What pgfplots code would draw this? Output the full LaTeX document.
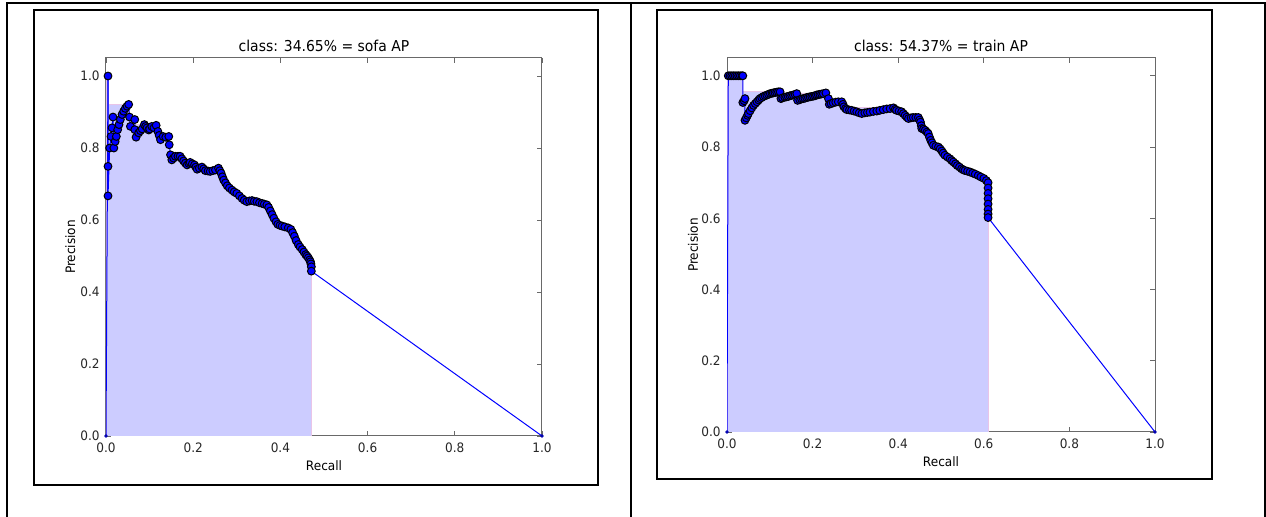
\documentclass[border=0pt]{standalone}
\usepackage{fontspec}
\setmainfont{DejaVu Sans}[FakeStretch=0.93]
\usepackage{pgfplots}
\pgfplotsset{compat=1.18}
\definecolor{apfill}{RGB}{204,204,255}
\definecolor{apedge}{RGB}{232,196,232}
\definecolor{axgray}{RGB}{105,105,105}
\definecolor{ptblue}{RGB}{0,0,255}
\pgfplotsset{prstyle/.style={
  scale only axis,
  xmin=0, xmax=1, ymin=0, ymax=1.05,
  xtick={0,0.2,0.4,0.6,0.8,1}, ytick={0,0.2,0.4,0.6,0.8,1},
  tick align=inside, xtick pos=both, ytick pos=both,
  major tick length=2.5pt,
  every tick/.style={axgray, line width=0.4pt},
  axis line style={axgray, line width=0.5pt},
  ticklabel style={font=\fontsize{6.5}{7}\selectfont, text=black!85, inner sep=0pt},
  xticklabel style={anchor=base, yshift=-8.5pt},
  yticklabel style={anchor=east, xshift=-3pt},
  /pgf/number format/.cd, fixed, fixed zerofill, precision=1, assume math mode=true, /pgfplots/.cd,
  every axis title/.style={font=\fontsize{7.5}{9}\selectfont, at={(0.5,1)}, anchor=base, yshift=3pt, inner sep=0pt},
  xlabel style={font=\fontsize{6.5}{7}\selectfont, at={(axis description cs:0.5,0)}, anchor=base, yshift=-17.5pt, inner sep=0pt},
  ylabel style={font=\fontsize{6.5}{7}\selectfont, anchor=base, inner sep=0pt},
  xlabel={Recall}, ylabel={Precision},
}}
\pgfplotsset{envfill/.style={fill=apfill, draw=apedge, line width=0.4pt, const plot mark right},
  prline/.style={ptblue, line width=0.5pt},
  prpts/.style={ptblue, line width=0.5pt, mark=*, mark size=1.95pt, mark options={fill=ptblue, draw=black, line width=0.5pt}}}
\begin{document}
\begin{tikzpicture}
\useasboundingbox (0pt,0pt) rectangle (633pt,-258.5pt);
% table frame
\draw[line width=1pt] (3.5pt,-258.5pt) -- (3.5pt,-1.5pt) -- (632.5pt,-1.5pt) -- (632.5pt,-258.5pt);
\draw[line width=1pt] (315.5pt,-1.5pt) -- (315.5pt,-258.5pt);
\draw[line width=1pt] (17pt,-5pt) rectangle (299pt,-242.5pt);
\draw[line width=1pt] (328.5pt,-5pt) rectangle (606pt,-239.5pt);

\begin{axis}[prstyle, at={(53pt,-218pt)}, anchor=south west, width=218pt, height=189pt,
  title={class: 34.65\% = sofa AP},
  ylabel style={at={(axis description cs:-0.071,0.5)}}]
\addplot[envfill] coordinates {(0,0) (0,1) (0.0046,1) (0.052,0.921) (0.054,0.886) (0.066,0.879) (0.088,0.865) (0.115,0.863) (0.119,0.846) (0.144,0.832) (0.145,0.809) (0.148,0.781) (0.17,0.777) (0.174,0.77) (0.178,0.764) (0.193,0.76) (0.203,0.753) (0.22,0.747) (0.258,0.744) (0.261,0.737) (0.264,0.73) (0.267,0.72) (0.27,0.711) (0.274,0.703) (0.278,0.695) (0.283,0.689) (0.289,0.683) (0.294,0.678) (0.3,0.674) (0.306,0.667) (0.312,0.66) (0.317,0.655) (0.335,0.654) (0.34,0.652) (0.346,0.651) (0.352,0.648) (0.358,0.646) (0.363,0.644) (0.369,0.642) (0.373,0.635) (0.377,0.625) (0.381,0.615) (0.385,0.605) (0.39,0.595) (0.394,0.588) (0.399,0.585) (0.404,0.583) (0.41,0.581) (0.418,0.578) (0.424,0.574) (0.428,0.565) (0.432,0.555) (0.436,0.543) (0.441,0.532) (0.445,0.525) (0.45,0.518) (0.454,0.511) (0.458,0.504) (0.461,0.5) (0.464,0.495) (0.467,0.489) (0.469,0.484) (0.47,0.478) (0.471,0.47) (0.471,0)};
\addplot[prline] coordinates {(0,0) (0.0046,1)};
\addplot[prline] coordinates {(0.471,0.458) (1,0)};
\addplot[prpts] coordinates {(0.0046,1) (0.0046,0.749) (0.0046,0.667) (0.0084,0.8) (0.0115,0.832) (0.0138,0.856) (0.016,0.886) (0.018,0.8) (0.021,0.818) (0.0237,0.832) (0.0268,0.851) (0.0298,0.865) (0.0329,0.879) (0.0367,0.893) (0.0405,0.902) (0.0443,0.91) (0.0482,0.916) (0.052,0.921) (0.054,0.886) (0.056,0.86) (0.066,0.879) (0.066,0.851) (0.069,0.83) (0.075,0.842) (0.079,0.848) (0.083,0.853) (0.088,0.865) (0.091,0.86) (0.094,0.856) (0.098,0.85) (0.1,0.853) (0.105,0.86) (0.11,0.856) (0.115,0.863) (0.119,0.846) (0.122,0.835) (0.125,0.823) (0.131,0.832) (0.137,0.83) (0.144,0.832) (0.145,0.809) (0.148,0.781) (0.151,0.767) (0.155,0.772) (0.159,0.777) (0.165,0.777) (0.17,0.777) (0.174,0.77) (0.178,0.764) (0.182,0.758) (0.186,0.753) (0.19,0.757) (0.193,0.76) (0.198,0.756) (0.203,0.753) (0.206,0.747) (0.209,0.741) (0.214,0.744) (0.22,0.747) (0.224,0.742) (0.228,0.737) (0.234,0.736) (0.239,0.735) (0.245,0.737) (0.251,0.739) (0.258,0.744) (0.261,0.737) (0.264,0.73) (0.267,0.72) (0.27,0.711) (0.274,0.703) (0.278,0.695) (0.283,0.689) (0.289,0.683) (0.294,0.678) (0.3,0.674) (0.306,0.667) (0.312,0.66) (0.317,0.655) (0.323,0.651) (0.329,0.653) (0.335,0.654) (0.34,0.652) (0.346,0.651) (0.352,0.648) (0.358,0.646) (0.363,0.644) (0.369,0.642) (0.373,0.635) (0.377,0.625) (0.381,0.615) (0.385,0.605) (0.39,0.595) (0.394,0.588) (0.399,0.585) (0.404,0.583) (0.41,0.581) (0.418,0.578) (0.424,0.574) (0.428,0.565) (0.432,0.555) (0.436,0.543) (0.441,0.532) (0.445,0.525) (0.45,0.518) (0.454,0.511) (0.458,0.504) (0.461,0.5) (0.464,0.495) (0.467,0.489) (0.469,0.484) (0.47,0.478) (0.471,0.47) (0.471,0.458)};
\addplot[only marks, mark=*, mark size=0.6pt, ptblue!70!black] coordinates {(0,0) (1,0)};
\end{axis}

\begin{axis}[prstyle, at={(363.5pt,-216pt)}, anchor=south west, width=214pt, height=187pt,
  title={class: 54.37\% = train AP},
  ylabel style={at={(axis description cs:-0.068,0.5)}}]
\addplot[envfill] coordinates {(0,0) (0,1) (0.037,1) (0.124,0.955) (0.231,0.952) (0.268,0.927) (0.389,0.91) (0.393,0.906) (0.396,0.903) (0.402,0.901) (0.408,0.899) (0.412,0.894) (0.416,0.889) (0.447,0.883) (0.45,0.876) (0.452,0.87) (0.454,0.86) (0.455,0.852) (0.459,0.85) (0.463,0.847) (0.467,0.842) (0.47,0.838) (0.473,0.828) (0.476,0.819) (0.479,0.812) (0.482,0.805) (0.488,0.802) (0.494,0.8) (0.498,0.795) (0.502,0.789) (0.505,0.783) (0.509,0.777) (0.515,0.772) (0.521,0.767) (0.525,0.762) (0.529,0.758) (0.534,0.753) (0.538,0.748) (0.543,0.744) (0.548,0.739) (0.552,0.736) (0.556,0.734) (0.562,0.732) (0.568,0.73) (0.574,0.727) (0.58,0.724) (0.587,0.72) (0.593,0.716) (0.6,0.712) (0.606,0.706) (0.61,0.7) (0.61,0)};
\addplot[prline] coordinates {(0,0) (0.003,1)};
\addplot[prline] coordinates {(0.61,0.602) (1,0)};
\addplot[prpts] coordinates {(0.003,1) (0.007,1) (0.011,1) (0.015,1) (0.019,1) (0.023,1) (0.027,1) (0.031,1) (0.035,1) (0.037,1) (0.037,0.925) (0.04,0.93) (0.042,0.936) (0.042,0.875) (0.045,0.882) (0.048,0.889) (0.05,0.894) (0.054,0.902) (0.058,0.91) (0.062,0.917) (0.066,0.922) (0.07,0.927) (0.074,0.932) (0.077,0.936) (0.081,0.939) (0.085,0.942) (0.089,0.944) (0.093,0.946) (0.097,0.948) (0.101,0.95) (0.105,0.951) (0.108,0.952) (0.112,0.953) (0.116,0.954) (0.12,0.955) (0.124,0.955) (0.126,0.936) (0.13,0.938) (0.135,0.94) (0.139,0.941) (0.143,0.942) (0.147,0.944) (0.151,0.945) (0.155,0.946) (0.159,0.948) (0.163,0.95) (0.165,0.931) (0.17,0.933) (0.174,0.935) (0.178,0.936) (0.182,0.937) (0.186,0.939) (0.19,0.94) (0.194,0.941) (0.198,0.942) (0.202,0.943) (0.206,0.944) (0.209,0.946) (0.213,0.947) (0.217,0.948) (0.221,0.949) (0.225,0.95) (0.231,0.952) (0.237,0.936) (0.239,0.92) (0.243,0.922) (0.248,0.924) (0.254,0.926) (0.26,0.927) (0.268,0.927) (0.271,0.92) (0.273,0.913) (0.277,0.908) (0.28,0.905) (0.286,0.904) (0.291,0.903) (0.297,0.901) (0.303,0.899) (0.309,0.896) (0.315,0.894) (0.322,0.896) (0.328,0.897) (0.334,0.898) (0.342,0.9) (0.35,0.901) (0.357,0.903) (0.365,0.905) (0.373,0.907) (0.381,0.908) (0.389,0.91) (0.393,0.906) (0.396,0.903) (0.402,0.901) (0.408,0.899) (0.412,0.894) (0.416,0.889) (0.42,0.884) (0.424,0.88) (0.43,0.882) (0.435,0.883) (0.441,0.883) (0.447,0.883) (0.45,0.876) (0.452,0.87) (0.454,0.86) (0.455,0.852) (0.459,0.85) (0.463,0.847) (0.467,0.842) (0.47,0.838) (0.473,0.828) (0.476,0.819) (0.479,0.812) (0.482,0.805) (0.488,0.802) (0.494,0.8) (0.498,0.795) (0.502,0.789) (0.505,0.783) (0.509,0.777) (0.515,0.772) (0.521,0.767) (0.525,0.762) (0.529,0.758) (0.534,0.753) (0.538,0.748) (0.543,0.744) (0.548,0.739) (0.552,0.736) (0.556,0.734) (0.562,0.732) (0.568,0.73) (0.574,0.727) (0.58,0.724) (0.587,0.72) (0.593,0.716) (0.6,0.712) (0.606,0.706) (0.61,0.7) (0.61,0.685) (0.61,0.67) (0.61,0.655) (0.61,0.64) (0.61,0.625) (0.61,0.612) (0.61,0.602)};
\addplot[only marks, mark=*, mark size=0.6pt, ptblue!70!black] coordinates {(0,0) (1,0)};
\end{axis}
\end{tikzpicture}
\end{document}
